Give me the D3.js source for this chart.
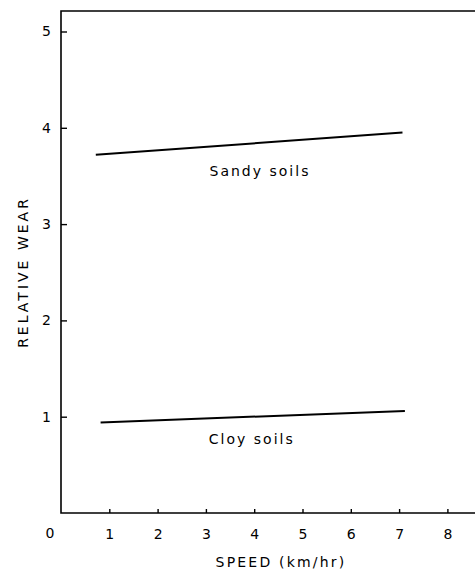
<!DOCTYPE html>
<html>
<head>
<meta charset="utf-8">
<script src="https://cdn.jsdelivr.net/npm/d3@7"></script>
<style>
  body { margin: 0; background: #fff; }
  text { font-family: "DejaVu Sans", sans-serif; fill: #000; }
</style>
</head>
<body>
<svg width="475" height="574"></svg>
<script>
// data
var speeds = [0.82, 7.12];
var sandyWear = [3.72, 3.95];
var clayWear = [0.94, 1.06];
var sandySpeeds = [0.72, 7.07];
var xTicks = [1, 2, 3, 4, 5, 6, 7, 8];
var yTicks = [1, 2, 3, 4, 5];

var svg = d3.select("svg");

// plot area (don't call it "top", that's window.top)
var padL = 61, padR = 475, padT = 11, padB = 513;

var x = d3.scaleLinear().domain([0, (padR - padL) / 48.3]).range([padL, padR]);
var y = d3.scaleLinear().domain([0, (padB - padT) / 96.3]).range([padB, padT]);

// frame: left axis, top line, bottom axis
svg.append("path")
    .attr("d", "M" + padR + "," + padT + "H" + padL + "V" + padB + "H" + padR)
    .attr("fill", "none")
    .attr("stroke", "#000")
    .attr("stroke-width", 1.6);

// x ticks (inward)
var xAxis = svg.append("g")
    .attr("transform", "translate(0," + padB + ")")
    .call(d3.axisBottom(x).tickValues(xTicks).tickFormat(d3.format("d"))
        .tickSizeInner(-4).tickSizeOuter(0).tickPadding(16));
xAxis.select(".domain").remove();
xAxis.selectAll("line").attr("stroke-width", 1.4);
xAxis.selectAll("text").style("font-size", "14px").attr("font-family", null);

// the corner "0"
svg.append("text")
    .attr("x", x(0) - 11)
    .attr("y", 538)
    .attr("text-anchor", "middle")
    .style("font-size", "14px")
    .text("0");

// y ticks (inward)
var yAxis = svg.append("g")
    .attr("transform", "translate(" + padL + ",0)")
    .call(d3.axisLeft(y).tickValues(yTicks).tickFormat(d3.format("d"))
        .tickSizeInner(-6).tickSizeOuter(0).tickPadding(10));
yAxis.select(".domain").remove();
yAxis.selectAll("line").attr("stroke-width", 1.4);
yAxis.selectAll("text").style("font-size", "14px").attr("font-family", null);

var line = d3.line()
    .x(function(d) { return x(d[0]); })
    .y(function(d) { return y(d[1]); });

svg.append("path")
    .datum(d3.zip(sandySpeeds, sandyWear))
    .attr("d", line)
    .attr("fill", "none")
    .attr("stroke", "#000")
    .attr("stroke-width", 2);

svg.append("path")
    .datum(d3.zip(speeds, clayWear))
    .attr("d", line)
    .attr("fill", "none")
    .attr("stroke", "#000")
    .attr("stroke-width", 2);

// curve labels
svg.append("text")
    .attr("x", x(4.12))
    .attr("y", y(3.5))
    .attr("text-anchor", "middle")
    .style("font-size", "14px")
    .style("letter-spacing", "2px")
    .text("Sandy soils");

svg.append("text")
    .attr("x", x(3.95))
    .attr("y", y(0.72))
    .attr("text-anchor", "middle")
    .style("font-size", "14px")
    .style("letter-spacing", "2px")
    .text("Cloy soils");

// axis titles
svg.append("text")
    .attr("x", 281)
    .attr("y", 567)
    .attr("text-anchor", "middle")
    .style("font-size", "14px")
    .style("letter-spacing", "2.2px")
    .text("SPEED (km/hr)");

svg.append("text")
    .attr("transform", "translate(28,272) rotate(-90)")
    .attr("text-anchor", "middle")
    .style("font-size", "14px")
    .style("letter-spacing", "3px")
    .text("RELATIVE WEAR");
</script>
</body>
</html>
